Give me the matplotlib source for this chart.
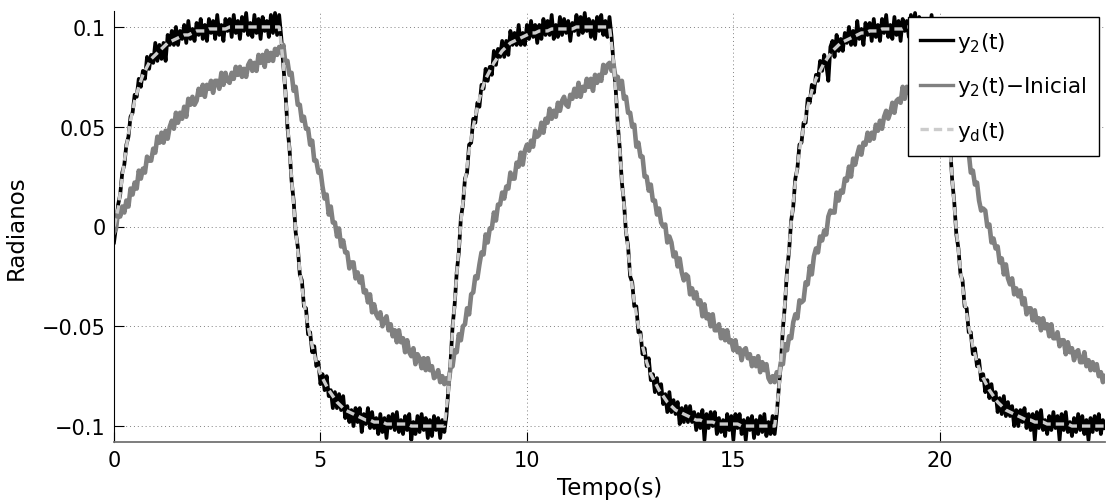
import numpy as np
import matplotlib
matplotlib.use("Agg")
import matplotlib.pyplot as plt

# time bases (s): reference every 0.1 s, measured signals every 0.05 s
t_d = np.linspace(0, 24, 241)
t = np.linspace(0, 24, 481)

# values, in milliradians
yd_mrad = [
    0, 9, 25, 40, 53, 63, 70, 76, 80, 84, 86, 88, 90, 92, 93, 94, 95, 96, 96, 97,
    98, 98, 98, 99, 99, 99, 99, 99, 100, 100, 100, 100, 100, 100, 100, 100, 100, 100, 100, 100,
    100, 82, 52, 24, -2, -22, -38, -50, -60, -68, -74, -78, -82, -85, -88, -90, -92, -93, -94, -95,
    -96, -97, -97, -98, -98, -98, -99, -99, -99, -99, -99, -99, -100, -100, -100, -100, -100, -100, -100, -100,
    -100, -82, -52, -24, 2, 22, 38, 50, 60, 68, 74, 78, 82, 85, 88, 90, 92, 93, 94, 95,
    96, 97, 97, 98, 98, 98, 99, 99, 99, 99, 99, 99, 100, 100, 100, 100, 100, 100, 100, 100,
    100, 82, 52, 24, -2, -22, -38, -50, -60, -68, -74, -78, -82, -85, -88, -90, -92, -93, -94, -95,
    -96, -97, -97, -98, -98, -98, -99, -99, -99, -99, -99, -99, -100, -100, -100, -100, -100, -100, -100, -100,
    -100, -82, -52, -24, 2, 22, 38, 50, 60, 68, 74, 78, 82, 85, 88, 90, 92, 93, 94, 95,
    96, 97, 97, 98, 98, 98, 99, 99, 99, 99, 99, 99, 100, 100, 100, 100, 100, 100, 100, 100,
    100, 82, 52, 24, -2, -22, -38, -50, -60, -68, -74, -78, -82, -85, -88, -90, -92, -93, -94, -95,
    -96, -97, -97, -98, -98, -98, -99, -99, -99, -99, -99, -99, -100, -100, -100, -100, -100, -100, -100, -100,
    -100,
]

y2_mrad = [
    -8, 0, 11, 16, 27, 31, 41, 45, 55, 57, 66, 65, 74, 70, 78, 74, 85, 79, 86, 82,
    92, 83, 91, 84, 92, 83, 96, 91, 98, 91, 100, 91, 98, 94, 101, 92, 103, 94, 99, 93,
    102, 96, 104, 94, 101, 93, 104, 97, 103, 94, 106, 96, 101, 93, 104, 98, 104, 95, 106, 97,
    103, 94, 105, 98, 107, 96, 102, 95, 106, 97, 104, 94, 105, 98, 103, 95, 106, 97, 107, 96,
    106, 95, 81, 68, 50, 39, 23, 13, -3, -10, -24, -27, -40, -41, -54, -53, -63, -60, -70, -68,
    -79, -74, -82, -75, -85, -82, -91, -83, -91, -84, -92, -85, -96, -90, -98, -92, -100, -91, -98, -91,
    -103, -94, -99, -91, -101, -93, -101, -96, -104, -94, -103, -96, -106, -95, -101, -94, -102, -93, -103, -97,
    -104, -95, -102, -94, -107, -98, -104, -95, -103, -94, -102, -96, -106, -97, -105, -95, -102, -96, -106, -97,
    -103, -95, -81, -68, -50, -39, -23, -13, 4, 11, 24, 27, 41, 42, 54, 52, 62, 60, 71, 69,
    79, 73, 80, 76, 88, 81, 89, 85, 93, 85, 93, 86, 98, 91, 97, 91, 101, 91, 97, 91,
    101, 94, 103, 95, 101, 92, 101, 94, 104, 96, 103, 96, 106, 94, 101, 95, 105, 96, 104, 97,
    103, 93, 102, 98, 106, 96, 105, 97, 107, 98, 104, 95, 103, 94, 105, 98, 106, 96, 103, 95,
    105, 95, 81, 69, 51, 39, 22, 12, -3, -10, -25, -28, -40, -40, -53, -53, -64, -61, -70, -66,
    -77, -74, -83, -76, -84, -79, -89, -84, -93, -83, -93, -87, -94, -88, -99, -91, -98, -90, -98, -90,
    -98, -93, -102, -94, -101, -92, -107, -94, -101, -93, -100, -93, -104, -96, -103, -97, -105, -94, -102, -95,
    -107, -94, -101, -94, -104, -97, -107, -96, -102, -95, -106, -97, -104, -95, -103, -94, -105, -98, -104, -95,
    -104, -94, -81, -69, -51, -39, -22, -12, 3, 10, 24, 29, 41, 42, 52, 52, 64, 62, 71, 67,
    76, 73, 83, 78, 86, 81, 73, 90, 93, 85, 96, 88, 94, 88, 97, 92, 100, 91, 98, 91,
    103, 94, 99, 91, 102, 96, 102, 93, 104, 95, 101, 93, 104, 97, 106, 95, 101, 94, 105, 96,
    103, 93, 104, 98, 103, 95, 106, 97, 107, 96, 105, 98, 104, 94, 103, 95, 106, 97, 104, 98,
    103, 94, 80, 68, 51, 40, 23, 12, -4, -11, -24, -27, -40, -41, -53, -53, -64, -61, -70, -67,
    -77, -74, -83, -77, -86, -79, -87, -83, -93, -86, -94, -85, -95, -88, -95, -90, -100, -92, -100, -92,
    -98, -91, -101, -94, -102, -94, -107, -93, -101, -92, -102, -97, -104, -95, -102, -93, -101, -95, -107, -94,
    -102, -93, -103, -98, -105, -96, -103, -94, -102, -95, -104, -97, -107, -96, -103, -95, -102, -94, -104, -97,
    -101,
]

y2_ini_mrad = [
    -3, -1, 8, 5, 10, 7, 13, 10, 19, 16, 22, 19, 28, 24, 29, 27, 35, 33, 33, 39,
    37, 45, 42, 47, 42, 48, 44, 50, 53, 49, 57, 52, 57, 54, 60, 55, 64, 61, 65, 61,
    63, 69, 66, 71, 65, 71, 69, 73, 67, 73, 73, 69, 77, 71, 77, 73, 72, 77, 74, 80,
    76, 80, 75, 79, 75, 81, 83, 78, 82, 78, 86, 82, 86, 80, 88, 83, 87, 83, 89, 86,
    90, 87, 91, 82, 83, 76, 77, 68, 70, 61, 61, 53, 55, 49, 49, 41, 43, 33, 33, 27,
    28, 20, 14, 16, 6, 10, 2, 2, -5, -1, -10, -7, -13, -13, -21, -18, -18, -26, -23, -28,
    -25, -33, -32, -38, -34, -43, -39, -44, -46, -43, -50, -47, -45, -52, -49, -55, -52, -58, -52, -58,
    -56, -63, -57, -63, -65, -61, -69, -64, -66, -71, -66, -72, -66, -72, -70, -76, -75, -72, -78, -75,
    -79, -76, -79, -71, -70, -62, -63, -54, -57, -50, -49, -41, -44, -34, -33, -25, -26, -19, -13, -14,
    -4, -8, -1, -1, 7, 3, 11, 11, 17, 14, 20, 19, 27, 24, 24, 32, 30, 37, 31, 38,
    41, 38, 43, 40, 48, 45, 46, 52, 47, 54, 52, 59, 54, 58, 55, 62, 58, 63, 65, 61,
    60, 66, 64, 69, 65, 72, 65, 70, 68, 74, 70, 74, 68, 76, 72, 76, 73, 81, 77, 81,
    82, 78, 81, 74, 75, 69, 73, 64, 65, 57, 57, 50, 51, 40, 42, 35, 35, 25, 25, 18,
    21, 13, 13, 6, 9, 2, 0, 1, -8, -5, -8, -15, -13, -20, -16, -23, -27, -24, -25, -34,
    -31, -36, -33, -39, -37, -45, -39, -46, -44, -50, -44, -52, -52, -49, -56, -52, -57, -52, -58, -57,
    -62, -57, -63, -61, -67, -62, -61, -66, -64, -70, -66, -70, -65, -73, -68, -72, -69, -76, -78, -75,
    -78, -73, -75, -68, -69, -59, -62, -55, -56, -48, -44, -46, -37, -38, -37, -28, -29, -20, -24, -15,
    -11, -13, -5, -7, -2, -4, 5, 8, 7, 7, 17, 13, 18, 17, 24, 23, 30, 25, 34, 31,
    36, 40, 36, 42, 41, 47, 43, 47, 44, 51, 48, 53, 49, 55, 58, 54, 57, 62, 57, 63,
    64, 62, 70, 64, 70, 67, 72, 68, 67, 73, 75, 72, 76, 71, 76, 74, 81, 75, 81, 81,
    82, 79, 82, 73, 74, 68, 70, 61, 62, 54, 53, 43, 44, 37, 37, 27, 28, 21, 22, 13,
    8, 9, 8, 0, 1, -8, -6, -11, -10, -18, -16, -24, -19, -26, -29, -26, -34, -31, -35, -32,
    -39, -36, -44, -41, -41, -47, -42, -48, -46, -52, -46, -51, -49, -55, -49, -56, -56, -53, -60, -57,
    -57, -64, -58, -63, -61, -67, -63, -62, -68, -68, -63, -70, -67, -72, -68, -72, -69, -75, -73, -78,
    -75,
]

xticks = [0, 5, 10, 15, 20]
yticks = [-0.1, -0.05, 0, 0.05, 0.1]
ytick_labels = ['\u22120.1', '\u22120.05', '0', '0.05', '0.1']
labels = ['y$_2$(t)', 'y$_2$(t)\u2212Inicial', 'y$_\\mathrm{d}$(t)']

yd = np.array(yd_mrad) / 1000.0
y2 = np.array(y2_mrad) / 1000.0
y2_ini = np.array(y2_ini_mrad) / 1000.0

fig = plt.figure(figsize=(11.06, 5.02), dpi=100)
ax = fig.add_axes([114 / 1106, 59 / 502, 991 / 1106, 431 / 502])

ax.plot(t, y2, color='k', lw=2.7, label=labels[0])
ax.plot(t, y2_ini, color='#808080', lw=3.3, label=labels[1])
ax.plot(t_d, yd, color='#cccccc', lw=2.4, dashes=(2.5, 1.5), label=labels[2])

ax.set_xlim(0, 24)
ax.set_ylim(-0.108, 0.108)
ax.set_xticks(xticks)
ax.set_yticks(yticks)
ax.set_yticklabels(ytick_labels)
ax.set_axisbelow(True)
ax.grid(True, color='0.5', linestyle=(0, (1, 3)), lw=0.7)
ax.tick_params(direction='in', length=7, labelsize=15, pad=6)
ax.spines['top'].set_visible(False)
ax.spines['right'].set_visible(False)
ax.spines['bottom'].set_color('0.45')
ax.spines['bottom'].set_linewidth(1.3)

ax.set_xlabel('Tempo(s)', fontsize=16.5, labelpad=4)
ax.set_ylabel('Radianos', fontsize=16.5, labelpad=10)

leg = ax.legend(loc='upper right', bbox_to_anchor=(0.994, 0.986), borderaxespad=0,
                fancybox=False, edgecolor='k', framealpha=1, fontsize=15.5,
                handlelength=1.5, handletextpad=0.2, labelspacing=0.95, borderpad=0.6)
leg.get_frame().set_linewidth(1.0)
for line in leg.get_lines():
    line.set_linewidth(2.4)

fig.savefig('out.png', dpi=100)
